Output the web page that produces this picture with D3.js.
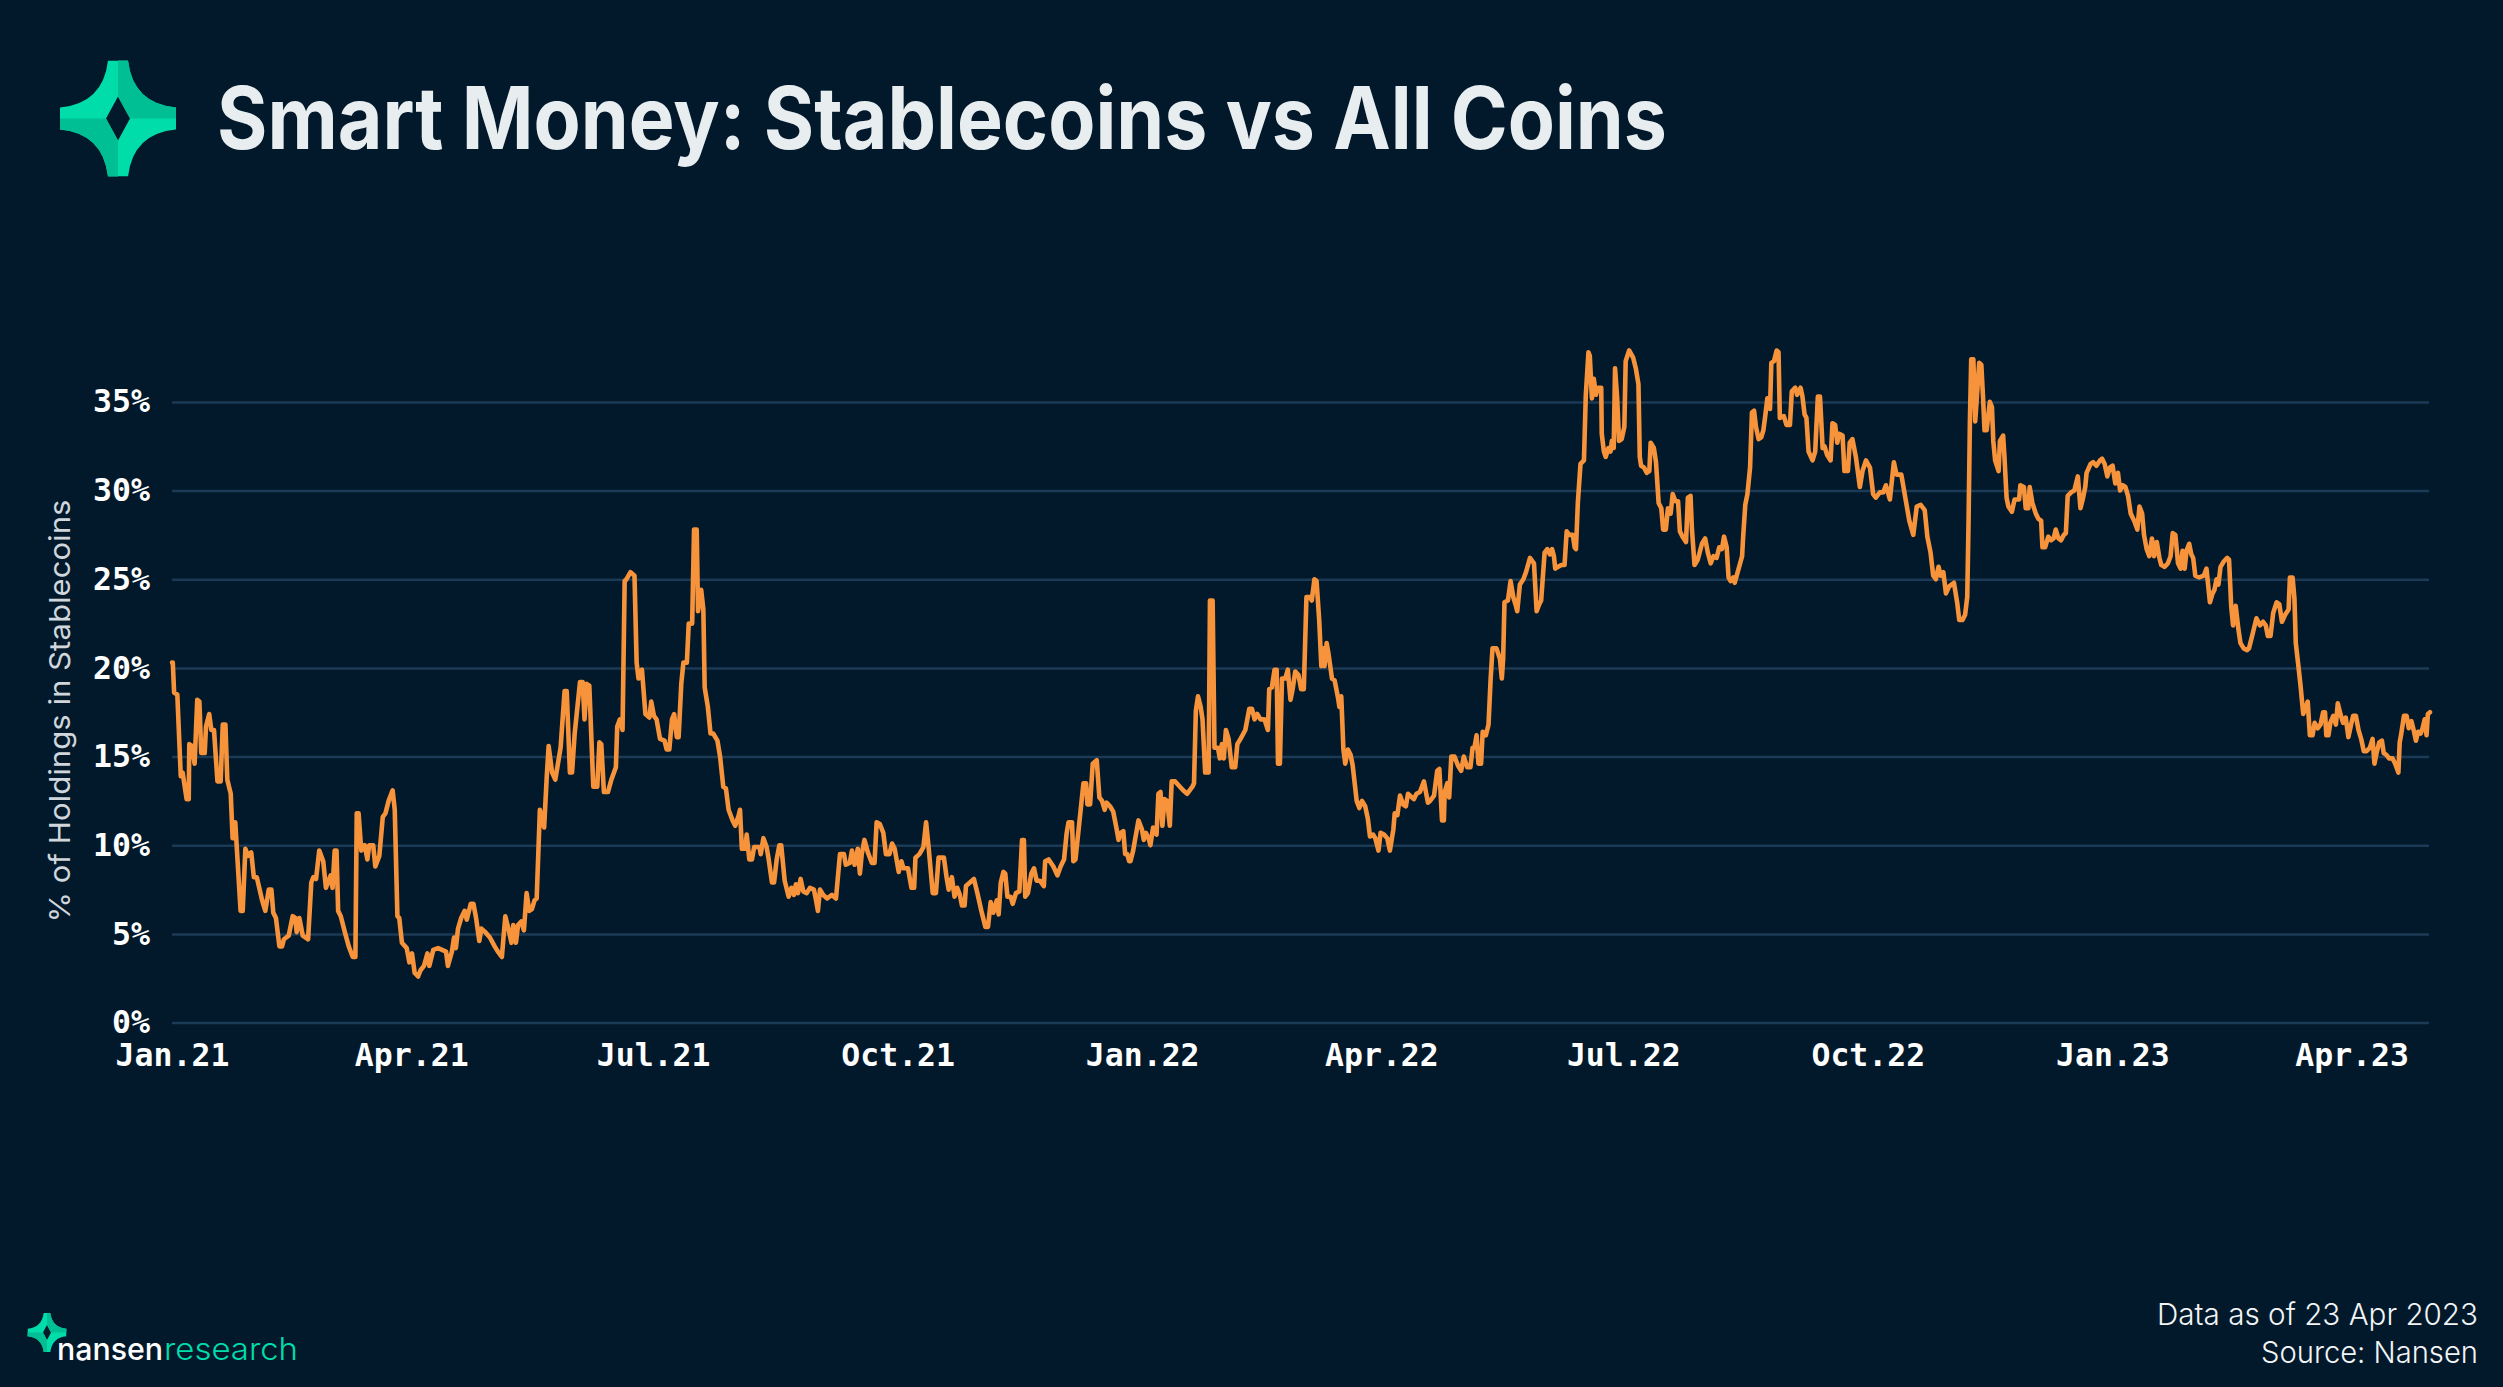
<!DOCTYPE html>
<html><head><meta charset="utf-8">
<script src="https://cdn.jsdelivr.net/npm/d3@7"></script>
<style>
html,body{margin:0;padding:0;background:#01192b;}
svg{display:block}
</style></head><body>
<svg id="chart" width="2503" height="1387"></svg>
<script>
// ---------- data ----------
const titleText = "Smart Money: Stablecoins vs All Coins";
const yAxisTitle = "% of Holdings in Stablecoins";
const yTicks = [0, 5, 10, 15, 20, 25, 30, 35];
const xTickDates = ["2021-01-01","2021-04-01","2021-07-01","2021-10-01","2022-01-01","2022-04-01","2022-07-01","2022-10-01","2023-01-01","2023-04-01"];
const startDate = "2021-01-01";
const footnotes = ["Data as of 23 Apr 2023", "Source: Nansen"];
const brand = ["nansen", "research"];
// [days since startDate, % of holdings in stablecoins]
const series = [
[0,20.3],[0.3,20.3],[0.8,18.6],[2,18.5],[3.3,13.9],[4,14.1],[5.5,12.6],[6.3,12.6],[6.5,15.7],[7.5,15.6],[8.5,14.6],[9.5,18.2],[10.3,18.1],[11,15.2],[12.3,15.2],[12.8,16.7],[14,17.4],[14.8,16.5],[15.8,16.5],[17.1,13.6],[18.3,13.6],[19.1,16.8],[20.1,16.8],[20.8,13.7],[22.1,12.9],[22.8,10.4],[23.8,11.3],[25.8,6.3],[26.6,6.3],[27.6,9.8],[28.6,9.4],[29.8,9.6],[30.8,8.2],[31.9,8.2],[33.9,6.9],[35.1,6.3],[36.4,7.5],[37.4,7.5],[38.1,6.2],[39.1,5.9],[40.4,4.3],[41.4,4.3],[42.1,4.7],[43.9,4.9],[45.4,6.0],[46.4,5.9],[46.9,5.1],[47.9,5.9],[49.2,4.9],[51.2,4.7],[52.4,7.9],[53.2,8.2],[54.2,8.1],[55.4,9.7],[56.9,9.1],[57.9,7.6],[59.7,8.3],[60.4,7.6],[61.2,9.7],[61.9,9.7],[62.5,6.3],[63.5,6.0],[65.2,5.0],[66.5,4.3],[68,3.7],[69,3.7],[69.5,11.8],[70.2,11.8],[71.2,9.7],[72.5,10.0],[73.5,9.2],[74.2,10.0],[75.7,10.0],[76.5,8.8],[78,9.4],[79.3,11.6],[80.3,11.8],[81.5,12.5],[83,13.1],[83.8,12.0],[84.8,6.0],[85.5,5.9],[86.5,4.5],[88.3,4.2],[89.3,3.4],[90.3,3.9],[91.3,2.8],[92.6,2.6],[93.5,2.95],[94.8,3.2],[96.1,3.9],[96.8,3.2],[98.3,4.1],[100.1,4.2],[101.6,4.1],[103.1,4.0],[103.8,3.2],[105.3,4.0],[106.1,4.8],[106.8,4.2],[107.6,5.3],[108.8,5.9],[110.1,6.3],[110.9,5.8],[112.4,6.7],[113.4,6.7],[114.4,5.9],[115.6,4.6],[116.4,5.3],[117.9,5.1],[119.6,4.8],[121.4,4.3],[122.6,4.0],[124.1,3.7],[125.4,6.0],[126.7,5.2],[127.7,4.5],[128.4,5.5],[129.4,4.5],[130.2,5.5],[131.4,5.7],[132.4,5.2],[133.4,7.3],[134.4,6.3],[135.4,6.4],[136.4,6.9],[137.2,7.0],[138.4,12.0],[140,11.0],[141,13.9],[141.7,15.6],[143,14.1],[144.2,13.7],
[146.2,15.5],[147.7,18.7],[148.5,18.7],[149.7,14.1],[150.5,14.1],[151.5,16.3],[153.5,19.2],[154.5,19.2],[155.2,17.1],[156,19.1],[157,19.0],[158.5,13.3],[160,13.3],[160.8,15.8],[161.5,15.7],[162.5,13.0],[164,13.0],[165.3,13.7],[167,14.4],[167.5,16.7],[168.5,17.1],[169.5,16.5],[170.3,24.9],[171,25.0],[172.5,25.4],[174,25.2],[174.8,20.3],[175.5,19.4],[176.8,19.9],[178.1,17.4],[179.6,17.2],[180.3,18.1],[181.3,17.3],[182.3,17.1],[183.6,16.0],[185.3,15.9],[186.1,15.4],[187.1,15.4],[188.1,17.1],[188.9,17.4],[189.9,16.1],[190.6,16.1],[191.6,19.1],[192.4,20.3],[193.7,20.3],[194.4,22.5],[195.7,22.5],[196.4,27.8],[197.4,27.8],[197.9,23.2],[199.1,24.4],[199.9,23.3],[200.4,18.9],[201.6,17.8],[202.6,16.3],[203.6,16.3],[205.2,15.9],[206.2,15.0],[207.4,13.3],[208.4,13.2],[209.4,12.0],[210.9,11.4],[211.9,11.1],[213.2,11.7],[213.7,12.0],[214.4,9.8],[215.7,9.8],[216.2,10.6],[217.2,9.2],[218.2,9.2],[219,9.9],[221,9.9],[221.5,9.5],[222.5,10.4],[223.7,9.9],[224.5,9.2],[225.7,7.9],[226.5,7.9],[227.5,9.2],[228.5,10.0],[229.2,10.0],[230.5,8.0],[232,7.1],[233,7.6],[234,7.2],[234.7,7.8],[235.5,7.3],[236.5,8.1],[237.5,7.4],[238.8,7.3],[240,7.6],[241.5,7.5],[242.3,6.9],[243,6.3],[243.8,7.5],[245,7.2],[246.5,7.0],[248.3,7.2],[249.8,7.0],[251.3,9.5],[252.8,9.5],[253.5,8.9],[255,9.0],[255.8,9.7],[256.8,8.9],[258,9.8],[258.8,8.4],[259.5,9.5],[260.5,10.3],[261.8,9.6],[263.3,9.0],[264.3,9.0],[265.1,11.3],[266.3,11.2],[267.6,10.7],[268.6,9.5],[269.9,9.5],[270.9,10.1],[271.9,9.8],[273.4,8.5],[274.4,9.1],[275.2,8.7],[276.9,8.7],[278.2,7.6],[279.2,7.6],[279.7,9.3],[281.2,9.5],[282.7,9.9],[283.7,11.3],[284.7,9.8],[286.2,7.3],[287.4,7.3],[288.4,9.3],
[289.7,9.3],[290.4,9.3],[291.4,8.2],[292.2,7.5],[293.4,8.2],[294.4,7.1],[295.4,7.6],[296.4,7.2],[297.2,6.6],[298.2,6.6],[298.7,7.7],[300.2,7.9],[301.7,8.1],[303,7.3],[304.5,6.3],[306,5.4],[307,5.4],[308,6.8],[309,6.2],[310.3,6.9],[311,6.1],[311.8,7.9],[312.8,8.5],[313.5,8.4],[314.3,7.1],[315.5,7.1],[316.3,6.7],[317.5,7.3],[318.8,7.4],[319.8,10.3],[320.5,10.3],[321,7.1],[322,7.3],[323.3,8.4],[324.3,8.7],[325.3,8.0],[326.5,8.0],[328,7.7],[328.5,9.1],[329.8,9.2],[331.6,8.8],[333.1,8.3],[334.3,8.8],[335.6,9.2],[336.6,10.7],[337.3,11.3],[338.6,11.3],[339.1,9.1],[339.9,9.2],[341.3,11.2],[342.9,13.5],[343.9,13.5],[344.4,12.3],[345.4,12.3],[346.4,14.6],[347.9,14.8],[348.9,12.7],[349.9,12.5],[350.9,12.0],[351.6,12.4],[352.9,12.2],[354.1,11.9],[355.4,10.9],[356.1,10.3],[356.9,10.7],[357.9,10.8],[358.6,9.5],[359.4,9.5],[360.1,9.1],[360.6,9.1],[361.6,9.7],[363.6,11.4],[364.9,10.9],[365.6,10.3],[366.4,10.7],[367.4,10.4],[368.1,10.0],[369.1,11.0],[370.4,10.6],[371.1,12.9],[371.9,13.0],[372.6,11.1],[373.4,12.6],[374.4,12.5],[375.4,11.1],[376.1,13.6],[377.4,13.6],[378.6,13.4],[380.4,13.1],[381.9,12.9],[383.9,13.3],[384.5,13.5],[385.2,17.6],[386,18.4],[387,17.8],[387.7,17.1],[388.7,14.1],[390,14.1],[390.5,23.8],[391.5,23.8],[392.2,15.5],[393.5,15.5],[394.2,14.9],[395,15.7],[395.7,14.9],[396.5,16.5],[397.5,16.0],[398.7,14.4],[400,14.4],[400.8,15.7],[402,16.0],[403.8,16.5],[405.3,17.7],[406.3,17.7],[407.3,17.1],[408.3,17.4],[409.5,17.1],[411,17.1],[412.3,16.5],[412.8,18.8],[413.8,18.9],[414.8,19.9],[415.6,19.9],[416.1,14.6],[416.8,14.6],[417.6,19.4],[418.8,19.4],[419.8,19.9],[420.8,18.2],[421.6,18.8],[422.6,19.8],[423.8,19.6],[424.8,18.8],[425.8,18.8],[426.8,24.0],[428.1,24.0],[428.8,23.8],[429.8,25.0],[430.6,24.9],[431.6,22.7],
[432.4,20.1],[433.1,21.1],[433.6,20.1],[434.4,21.4],[435.1,20.8],[436.4,19.4],[437.4,19.3],[438.7,18.3],[439.2,17.8],[439.9,18.4],[440.7,15.4],[441.4,14.6],[442.4,15.4],[443.4,15.1],[444.2,14.5],[445.7,12.5],[446.7,12.1],[447.7,12.5],[448.9,12.2],[449.9,11.5],[450.7,10.5],[451.9,10.6],[452.7,10.4],[453.9,9.7],[454.7,10.7],[456,10.6],[457.2,10.4],[458.2,9.7],[459.5,10.9],[460,11.8],[461,11.7],[462,12.8],[463.2,12.3],[464.2,12.2],[465,12.9],[466.5,12.7],[467.2,12.6],[468.2,12.9],[469.5,13.0],[471,13.6],[472.5,12.4],[473.3,12.5],[474.8,12.8],[476,14.2],[476.8,14.3],[477.8,11.4],[478.5,11.4],[478.8,13.0],[479.8,13.5],[480.5,12.7],[481.3,15.0],[482.5,15.0],[483.8,14.5],[485,14.2],[486,15.0],[487.3,14.4],[488.5,14.4],[489.3,15.5],[490,15.5],[490.8,16.2],[491.5,14.6],[492.5,14.6],[493.1,16.4],[494.3,16.2],[495.3,16.8],[496.1,19.4],[496.8,21.1],[498.3,21.1],[499.6,20.5],[500.3,19.4],[500.8,20.5],[501.3,23.7],[502.6,23.8],[503.6,24.9],[504.6,24.0],[505.6,23.5],[506.1,23.2],[507.1,24.7],[508.4,25.0],[509.4,25.4],[510.9,26.2],[512.4,25.9],[513.4,23.2],[514.4,23.6],[515.1,23.8],[516.4,26.5],[517.4,26.7],[518.4,26.4],[519.2,26.7],[519.9,26.3],[520.4,25.6],[521.4,25.7],[522.7,25.8],[523.9,25.8],[524.7,27.7],[525.7,27.5],[527,27.5],[527.7,26.8],[528.2,26.7],[528.9,29.3],[529.9,31.5],[531.2,31.7],[531.9,35.4],[532.9,37.8],[533.4,37.6],[534.2,35.2],[534.9,36.3],[535.7,35.4],[536.4,35.8],[537.7,35.8],[537.9,33.2],[538.7,32.2],[539.4,31.9],[540.4,32.4],[541.2,32.2],[541.7,32.8],[542.4,32.4],[542.9,36.9],[543.7,35.2],[544.4,32.8],[545.4,32.9],[546.4,33.6],[546.9,37.3],[548.2,37.9],[549.7,37.5],[550.7,36.9],[551.7,36.0],[552.2,31.9],[552.7,31.4],[553.8,31.3],[554.8,31.0],[555.8,31.1],[556.3,32.7],[557.5,32.4],[558.3,31.6],[559.3,29.3],[560.3,29.0],[561,27.8],[562,27.8],[562.8,29.0],[563.8,28.7],[564.6,29.8],[565.6,29.4],[566.6,29.4],[567.3,27.7],[568.3,27.4],[569.6,27.1],[570.3,29.6],[571.3,29.7],[571.8,27.9],[572.8,25.8],[574,26.1],
[575.6,27.0],[576.8,27.3],[577.8,26.5],[578.9,25.9],[579.9,26.3],[581.1,26.2],[582.1,26.8],[583.1,26.7],[583.9,27.4],[584.9,26.8],[585.6,25.1],[586.4,24.9],[587.4,25.1],[587.9,24.8],[589.4,25.6],[590.7,26.3],[591.1,27.4],[591.9,29.2],[592.7,29.8],[593.7,31.3],[594.4,34.4],[595.2,34.5],[595.9,33.6],[596.9,32.9],[597.9,33.0],[598.7,33.4],[599.4,34.2],[600.2,35.2],[601.2,34.6],[601.7,37.2],[602.7,37.3],[603.7,37.9],[604.4,37.8],[604.9,34.1],[606.4,34.2],[607.4,33.7],[608.7,33.7],[609.4,35.6],[610.7,35.8],[611.4,35.4],[612.7,35.8],[613.4,35.3],[614.2,34.3],[614.9,34.1],[615.7,32.2],[617.2,31.7],[618.2,32.2],[619.2,35.3],[620,35.3],[621,32.4],[621.7,32.5],[622.7,32.0],[624,31.7],[624.7,33.8],[625.7,33.7],[626.5,32.7],[627.2,33.2],[628.5,33.1],[629.2,31.1],[630.5,31.1],[631.2,32.7],[632.2,32.9],[633.5,31.9],[635,30.2],[636,31.1],[637.3,31.7],[638.8,31.3],[640,29.8],[641,29.6],[642.5,29.9],[643.8,29.9],[644.8,30.3],[646.3,29.5],[647.8,31.6],[648.8,30.9],[650.6,30.9],[652.1,29.6],[653.6,28.3],[655.1,27.5],[656.4,29.1],[657.9,29.2],[659.4,28.9],[660.4,27.4],[661.6,26.5],[662.6,25.2],[663.6,25.0],[664.6,25.7],[665.4,25.2],[666.4,25.4],[667.4,24.2],[668.6,24.6],[670.4,24.8],[671.6,23.7],[672.4,22.7],[673.6,22.7],[674.6,23.0],[675.4,24.0],[675.9,28.3],[676.4,33.9],[676.9,37.4],[677.7,37.4],[678.4,33.9],[678.9,35.0],[679.9,37.2],[680.7,37.1],[681.4,35.1],[681.9,33.4],[682.7,33.4],[683.9,35.0],[684.7,34.7],[685.2,32.8],[685.9,31.7],[687.2,31.1],[687.7,32.8],[688.9,33.1],[689.4,31.9],[690.2,29.6],[690.9,29.1],[692.2,28.8],[693.2,29.5],[694.9,29.5],[695.4,30.3],[696.7,30.2],[697.4,29.0],[698.4,29.0],[698.9,30.2],[699.9,29.3],[701.2,28.7],[702.2,28.4],[703.2,28.3],[703.7,26.8],[704.7,26.8],[705.9,27.4],[706.9,27.2],[707.9,27.3],[708.7,27.8],[709.7,27.3],[710.7,27.2],[711.7,27.5],[712.5,27.6],[713.2,29.7],[714.5,29.9],[715.7,30.0],[717,30.8],
[718,29.0],[719,29.6],[719.8,30.2],[720.3,31.0],[721.8,31.5],[722.8,31.6],[724,31.4],[725.3,31.7],[726.1,31.8],[727.1,31.5],[728.1,30.8],[729.1,31.3],[730.1,31.4],[731.1,30.4],[732.1,31.0],[732.9,30.0],[733.9,30.3],[734.9,30.2],[735.9,29.7],[736.9,28.7],[738.2,28.3],[739.4,27.8],[740.2,29.1],[741.2,28.7],[741.9,27.5],[742.9,26.7],[743.9,26.3],[744.9,27.3],[745.7,26.3],[746.7,27.1],[747.7,26.2],[748.4,25.8],[749.7,25.7],[750.9,25.9],[751.9,26.3],[752.7,27.6],[753.7,27.5],[754.7,25.9],[755.7,25.6],[756.4,26.6],[757.2,25.6],[757.9,26.6],[758.9,27.0],[759.7,26.4],[760.4,26.2],[761.2,25.2],[762.7,25.1],[764.4,25.2],[765.4,25.6],[766.7,23.7],[767.7,24.2],[768.4,24.4],[769.2,25.0],[769.9,24.7],[770.7,25.7],[771.9,26.0],[773.2,26.2],[773.9,26.1],[774.7,23.5],[775.4,22.4],[776.4,23.5],[777.4,22.2],[778.2,21.4],[779.4,21.1],[780.7,21.0],[781.4,21.1],[782.9,22.0],[784.2,22.8],[785.5,22.4],[786.7,22.6],[787.7,22.4],[788.5,21.8],[789.5,21.8],[790.5,23.1],[791.8,23.7],[792.8,23.6],[793.8,22.6],[795,23.0],[796.3,23.3],[796.8,25.1],[797.8,25.1],[798.5,23.9],[799,21.4],[800,20.1],[800.8,19.0],[801.8,17.4],[802.8,17.8],[803.5,18.1],[804.3,16.2],[805.3,16.2],[806.1,16.9],[807.3,16.6],[808.3,16.8],[809.3,17.5],[810,17.5],[810.5,16.2],[811.3,16.2],[812,16.9],[813.1,17.3],[814.1,16.8],[814.8,18.0],[815.8,17.4],[816.8,16.9],[817.8,17.2],[818.8,16.1],[819.8,16.8],[820.6,17.3],[821.6,17.3],[822.6,16.5],[823.6,16.0],[824.6,15.3],[825.6,15.3],[826.9,15.5],[827.9,16.0],[828.6,14.6],[829.4,15.2],[830.4,15.8],[831.4,15.9],[832.1,15.2],[833.1,15.1],[834.1,14.9],[835.4,14.9],[836.4,14.6],[837.6,14.1],[838.1,15.8],[838.7,16.3],[839.7,17.3],[840.7,17.3],[841.5,16.6],[842.5,17.0],[843.5,16.4],[844.2,15.9],[845,16.4],[846,16.3],[846.7,16.6],[847.5,17.1],[848.2,16.2],[848.7,17.4],[849.5,17.5]
];

// ---------- styles ----------
const BG = "#01192b", GRID = "#1b3a55", LINE = "#f7933b", TEAL = "#00dcaa", TEAL_D = "#00bf94";
const MONO = "'DejaVu Sans Mono', 'Liberation Mono', monospace";
const SANS = "Inter, 'Noto Sans', sans-serif";

const svg = d3.select("#chart");
svg.append("rect").attr("width", 2503).attr("height", 1387).attr("fill", BG);

const t0 = Date.parse(startDate + "T00:00:00Z");
const toDate = d => new Date(t0 + d * 86400000);
const pts = series.map(([d, v]) => ({date: toDate(d), value: v}));

const margin = {left: 172, right: 2430, top: 401.9, bottom: 1022.6};
const x = d3.scaleUtc().domain(d3.extent(pts, p => p.date)).range([margin.left, margin.right]);
const y = d3.scaleLinear().domain([0, 35]).range([margin.bottom, margin.top]);

// logo
function logo(g, cx, cy, s) {
  const k = s / 58;
  const P = (a, b) => `${cx + a * k},${cy + b * k}`;
  const outer = `M${P(-10,-58)} L${P(10,-58)} Q${P(15,-15)} ${P(58,-11)} L${P(58,11)} Q${P(15,15)} ${P(10,58)} L${P(-10,58)} Q${P(-15,15)} ${P(-58,11)} L${P(-58,-11)} Q${P(-15,-15)} ${P(-10,-58)} Z`;
  const inner = `M${P(0,-22)} L${P(12,0)} L${P(0,22)} L${P(-12,0)} Z`;
  const id = "clip" + Math.round(cx) + "_" + Math.round(cy);
  g.append("clipPath").attr("id", id).append("path").attr("d", outer + " " + inner).attr("clip-rule", "evenodd");
  const gg = g.append("g").attr("clip-path", `url(#${id})`);
  gg.append("rect").attr("x", cx - s).attr("y", cy - s).attr("width", 2 * s).attr("height", 2 * s).attr("fill", TEAL);
  gg.append("path").attr("d", `M${P(0,-60)} L${P(60,-60)} L${P(60,0)} L${P(0,0)} Z`).attr("fill", TEAL_D);
  gg.append("path").attr("d", `M${P(0,0)} L${P(0,60)} L${P(-60,60)} L${P(-60,0)} Z`).attr("fill", TEAL_D);
}
logo(svg, 118, 118.5, 58);

// title
svg.append("text").attr("x", 217).attr("y", 149)
  .attr("font-family", SANS).attr("font-weight", 700).attr("font-size", 86)
  .attr("fill", "#e8edf0").attr("textLength", 1450).attr("lengthAdjust", "spacingAndGlyphs")
  .text(titleText);

// y grid + labels
const yAxis = svg.append("g").attr("transform", `translate(${margin.left},0)`)
  .call(d3.axisLeft(y).tickValues(yTicks).tickFormat(d => d + "%")
    .tickSize(-(2429 - margin.left)).tickPadding(22));
yAxis.select(".domain").remove();
yAxis.selectAll(".tick line").attr("stroke", GRID).attr("stroke-width", 2.5);
yAxis.selectAll(".tick text").attr("fill", "#ffffff").attr("font-family", MONO)
  .attr("font-weight", 700).attr("font-size", 31.5);

// x labels
const xAxis = svg.append("g").attr("transform", `translate(0,${margin.bottom})`)
  .call(d3.axisBottom(x).tickValues(xTickDates.map(s => new Date(s + "T00:00:00Z")))
    .tickFormat(d3.utcFormat("%b.%y")).tickSize(0).tickPadding(21));
xAxis.select(".domain").remove();
xAxis.selectAll(".tick text").attr("fill", "#ffffff").attr("font-family", MONO)
  .attr("font-weight", 700).attr("font-size", 31.5);

// y title
svg.append("text").attr("transform", "translate(70,711) rotate(-90)")
  .attr("text-anchor", "middle").attr("font-family", SANS).attr("font-size", 29)
  .attr("fill", "#d0d6db").attr("textLength", 423).attr("lengthAdjust", "spacingAndGlyphs")
  .text(yAxisTitle);

// line
svg.append("path").datum(pts)
  .attr("fill", "none").attr("stroke", LINE).attr("stroke-width", 4.6)
  .attr("stroke-linejoin", "round").attr("stroke-linecap", "round")
  .attr("d", d3.line().x(p => x(p.date)).y(p => y(p.value)));

// footer
const footLen = [321, 217];
svg.selectAll("text.foot").data(footnotes).join("text").attr("class", "foot")
  .attr("x", 2478).attr("y", (d, i) => 1325 + i * 38)
  .attr("text-anchor", "end").attr("font-family", SANS).attr("font-size", 30).attr("font-weight", 300)
  .attr("textLength", (d, i) => footLen[i]).attr("lengthAdjust", "spacingAndGlyphs")
  .attr("fill", "#f2f4f6").text(d => d);

logo(svg, 47, 1332.5, 19.5);
svg.append("text").attr("x", 57).attr("y", 1360).attr("font-family", SANS).attr("font-size", 31)
  .attr("font-weight", 500).attr("fill", "#ffffff")
  .attr("textLength", 106).attr("lengthAdjust", "spacingAndGlyphs").text(brand[0]);
svg.append("text").attr("x", 164).attr("y", 1360).attr("font-family", SANS).attr("font-size", 31)
  .attr("font-weight", 300).attr("fill", TEAL)
  .attr("textLength", 134).attr("lengthAdjust", "spacingAndGlyphs").text(brand[1]);
</script>
</body></html>
